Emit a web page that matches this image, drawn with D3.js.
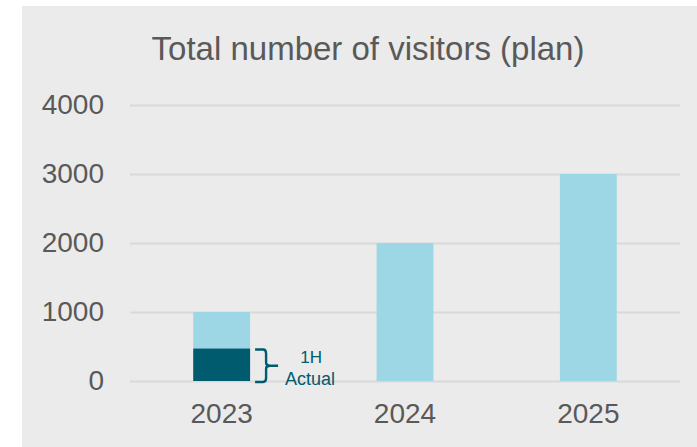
<!DOCTYPE html>
<html>
<head>
<meta charset="utf-8">
<script src="https://cdn.jsdelivr.net/npm/d3@7"></script>
<style>
  html, body { margin: 0; padding: 0; background: #ffffff; }
  svg { display: block; font-family: "Liberation Sans", Arial, sans-serif; }
</style>
</head>
<body>
<svg id="chart" width="697" height="447"></svg>
<script>
// Plan figures per year, plus the first-half actual for 2023
const years = ["2023", "2024", "2025"];
const planValues = [1000, 2000, 3000];
const actualValues = [470, null, null];
const yTicks = [0, 1000, 2000, 3000, 4000];
const titleText = "Total number of visitors (plan)";
const actualLabel = ["1H", "Actual"];

const svg = d3.select("#chart");
const W = 697, H = 447;
const FONT = "'Liberation Sans', Arial, sans-serif";

// Panel background
svg.append("rect")
  .attr("x", 22).attr("y", 6)
  .attr("width", W - 22).attr("height", H - 6)
  .attr("fill", "#ebebeb");

const x = d3.scaleBand().domain(years).range([130, 680]).paddingInner(0.69).paddingOuter(0.345);
const y = d3.scaleLinear().domain([0, 4000]).range([381, 105]);

// Title
svg.append("text")
  .attr("x", 368).attr("y", 60)
  .attr("text-anchor", "middle")
  .attr("font-size", 33)
  .attr("font-family", FONT)
  .attr("fill", "#595959")
  .text(titleText);

// Gridlines + y labels
const yAxis = d3.axisLeft(y).tickValues(yTicks).tickSize(-550).tickPadding(26).tickFormat(d3.format("d"));
const gy = svg.append("g").attr("transform", "translate(130,0)").call(yAxis);
gy.select(".domain").remove();
gy.selectAll(".tick line").attr("stroke", "#d9d9d9").attr("stroke-width", 2);
gy.selectAll(".tick text").attr("font-size", 28).attr("fill", "#595959")
  .attr("font-family", FONT);

// Plan bars
svg.append("g").selectAll("rect.plan")
  .data(years.map((yr, i) => ({ yr, v: planValues[i] })))
  .join("rect")
  .attr("class", "plan")
  .attr("x", d => x(d.yr))
  .attr("y", d => y(d.v))
  .attr("width", x.bandwidth())
  .attr("height", d => y(0) - y(d.v))
  .attr("fill", "#9dd7e5");

// Actual (first half) overlay
const actualData = years.map((yr, i) => ({ yr, v: actualValues[i] })).filter(d => d.v != null);
svg.append("g").selectAll("rect.actual")
  .data(actualData)
  .join("rect")
  .attr("class", "actual")
  .attr("x", d => x(d.yr))
  .attr("y", d => y(d.v))
  .attr("width", x.bandwidth())
  .attr("height", d => y(0) - y(d.v))
  .attr("fill", "#005b6e");

// Brace and label beside the actual segment
actualData.forEach(d => {
  const bx = x(d.yr) + x.bandwidth() + 5;
  const top = y(d.v) + 1, bot = y(0) + 1, mid = (top + bot) / 2;
  const path = `M${bx},${top} H${bx + 8} Q${bx + 11},${top} ${bx + 11},${top + 4} V${mid - 3} Q${bx + 11},${mid} ${bx + 15},${mid} H${bx + 23}` +
               ` M${bx + 15},${mid} Q${bx + 11},${mid} ${bx + 11},${mid + 3} V${bot - 4} Q${bx + 11},${bot} ${bx + 8},${bot} H${bx}`;
  svg.append("path").attr("d", path).attr("fill", "none")
    .attr("stroke", "#005b6e").attr("stroke-width", 2.4);
  svg.append("text").attr("x", bx + 56).attr("y", mid - 3)
    .attr("text-anchor", "middle").attr("font-size", 17).attr("font-family", FONT)
    .attr("fill", "#005b6e")
    .text(actualLabel[0]);
  svg.append("text").attr("x", bx + 55).attr("y", mid + 19)
    .attr("text-anchor", "middle").attr("font-size", 18).attr("font-family", FONT)
    .attr("fill", "#005b6e")
    .text(actualLabel[1]);
});

// X axis labels
const xAxis = d3.axisBottom(x).tickSize(0).tickPadding(22);
const gx = svg.append("g").attr("transform", `translate(0,${y(0)})`).call(xAxis);
gx.select(".domain").remove();
gx.selectAll(".tick text").attr("font-size", 28).attr("fill", "#595959")
  .attr("font-family", FONT);
</script>
</body>
</html>
